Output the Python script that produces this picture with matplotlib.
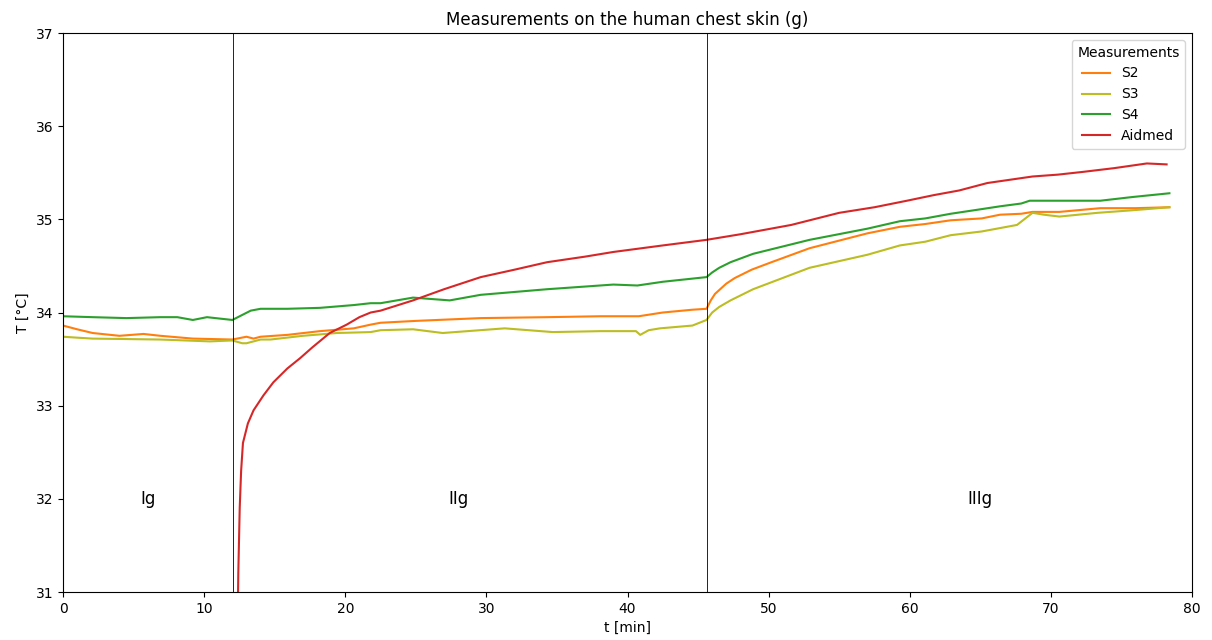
import matplotlib
matplotlib.use("Agg")
import matplotlib.pyplot as plt

# Skin temperature readings [°C] against time [min]
t_s2 = [0.0, 1.0, 2.1, 4.0, 5.7, 6.9, 9.2, 12.0, 13.0, 13.5, 14.0, 15.9, 18.2, 20.6,
        21.8, 22.5, 25.0, 29.6, 34.3, 38.1, 40.8, 42.5, 44.6, 45.6, 45.9, 46.2, 47.0,
        47.6, 48.8, 50.2, 52.9, 57.0, 59.3, 61.1, 62.9, 65.1, 66.4, 67.9, 68.7, 70.6,
        73.5, 76.0, 78.4]
s2 = [33.86, 33.82, 33.78, 33.75, 33.77, 33.75, 33.72, 33.71, 33.74, 33.72, 33.74, 33.76,
      33.80, 33.83, 33.87, 33.89, 33.91, 33.94, 33.95, 33.96, 33.96, 34.00, 34.03, 34.04,
      34.13, 34.20, 34.31, 34.37, 34.46, 34.54, 34.69, 34.85, 34.92, 34.95, 34.99, 35.01,
      35.05, 35.06, 35.08, 35.08, 35.12, 35.12, 35.13]

t_s3 = [0.0, 1.0, 2.1, 6.9, 10.4, 12.0, 12.7, 13.0, 14.0, 14.7, 17.0, 19.4, 21.8, 22.5,
        24.8, 26.9, 31.3, 34.7, 38.1, 40.6, 40.9, 41.5, 42.3, 44.6, 45.6, 46.0, 46.5,
        47.3, 48.9, 52.9, 57.0, 59.3, 61.1, 62.9, 65.1, 67.6, 68.7, 69.5, 70.6, 73.3,
        76.0, 78.4]
s3 = [33.74, 33.73, 33.72, 33.71, 33.69, 33.70, 33.67, 33.67, 33.71, 33.71, 33.75, 33.78,
      33.79, 33.81, 33.82, 33.78, 33.83, 33.79, 33.80, 33.80, 33.76, 33.81, 33.83, 33.86,
      33.92, 34.00, 34.06, 34.13, 34.25, 34.48, 34.62, 34.72, 34.76, 34.83, 34.87, 34.94,
      35.07, 35.05, 35.03, 35.07, 35.10, 35.13]

t_s4 = [0.0, 2.1, 4.5, 6.9, 8.1, 9.2, 10.2, 12.0, 13.3, 14.0, 15.9, 18.2, 20.6, 21.8,
        22.5, 24.8, 27.4, 29.6, 34.3, 39.0, 40.7, 42.5, 45.6, 46.0, 46.5, 47.3, 48.9,
        52.9, 57.0, 59.3, 61.1, 62.9, 65.1, 66.4, 67.9, 68.5, 73.5, 75.8, 78.4]
s4 = [33.96, 33.95, 33.94, 33.95, 33.95, 33.92, 33.95, 33.92, 34.02, 34.04, 34.04, 34.05,
      34.08, 34.10, 34.10, 34.16, 34.13, 34.19, 34.25, 34.30, 34.29, 34.33, 34.38, 34.43,
      34.48, 34.54, 34.63, 34.78, 34.90, 34.98, 35.01, 35.06, 35.11, 35.14, 35.17, 35.20,
      35.20, 35.24, 35.28]

t_aid = [12.30, 12.42, 12.52, 12.62, 12.75, 13.1, 13.5, 14.2, 14.9, 15.9, 16.8, 17.7,
         18.9, 20.1, 21.0, 21.8, 22.5, 24.8, 27.0, 29.6, 32.0, 34.3, 37.0, 39.0, 42.5,
         45.6, 48.0, 51.6, 55.0, 57.5, 59.8, 61.7, 63.5, 65.5, 68.7, 70.5, 72.3, 74.5,
         76.8, 78.2]
aid = [29.80, 31.20, 31.90, 32.30, 32.60, 32.81, 32.95, 33.11, 33.25, 33.40, 33.51, 33.63,
       33.78, 33.87, 33.95, 34.00, 34.02, 34.13, 34.25, 34.38, 34.46, 34.54, 34.60, 34.65,
       34.72, 34.78, 34.84, 34.94, 35.07, 35.13, 35.20, 35.26, 35.31, 35.39, 35.46, 35.48,
       35.51, 35.55, 35.60, 35.59]

phase_bounds = [12.05, 45.6]
phase_names = ["Ig", "IIg", "IIIg"]
phase_label_x = [6.0, 28.0, 65.0]
phase_label_y = 32.0

fig = plt.figure(figsize=(12.12, 6.4), dpi=100)
ax = fig.add_axes([0.052, 0.075, 0.9315, 0.8734])

ax.plot(t_s2, s2, color="tab:orange", lw=1.5, label="S2")
ax.plot(t_s3, s3, color="tab:olive", lw=1.5, label="S3")
ax.plot(t_s4, s4, color="tab:green", lw=1.5, label="S4")
ax.plot(t_aid, aid, color="tab:red", lw=1.5, label="Aidmed")

for xb in phase_bounds:
    ax.axvline(xb, color="black", lw=0.6)

for name, xl in zip(phase_names, phase_label_x):
    ax.text(xl, phase_label_y, name, ha="center", va="center", fontsize=12)

ax.set_xlim(0, 80)
ax.set_ylim(31, 37)
ax.set_xlabel("t [min]")
ax.set_ylabel("T [°C]")
ax.set_title("Measurements on the human chest skin (g)")
ax.legend(title="Measurements", loc="upper right")

fig.savefig("out.png", dpi=100)
